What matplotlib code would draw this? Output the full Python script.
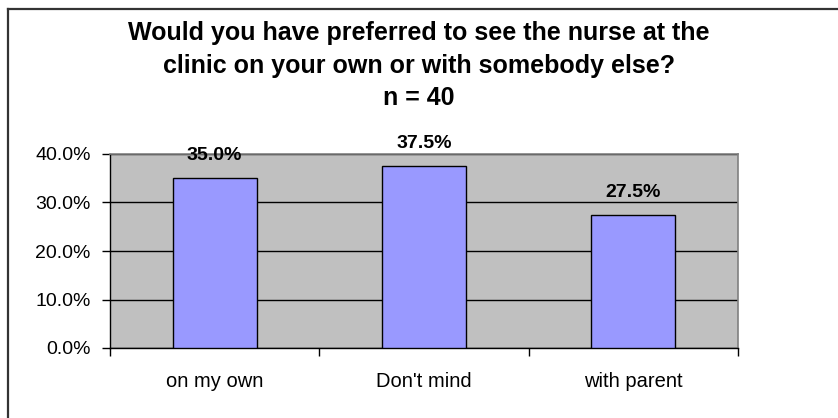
import numpy as np
import matplotlib.pyplot as plt
from matplotlib.lines import Line2D
from matplotlib.ticker import FuncFormatter, FixedLocator

categories = ["on my own", "Don't mind", "with parent"]
shares = [35.0, 37.5, 27.5]  # percent of respondents
title = "Would you have preferred to see the nurse at the\nclinic on your own or with somebody else?\nn = 40"

plt.rcParams['font.family'] = ['Liberation Sans', 'DejaVu Sans']

W, H = 838, 418
fig = plt.figure(figsize=(W / 100, H / 100), dpi=100)
ax = fig.add_axes([110 / W, 1 - 348 / H, (738 - 110) / W, (348 - 154) / H])

x = np.arange(len(categories))
ax.set_facecolor('#C0C0C0')
ax.bar(x, shares, width=0.4, color='#9999FF', edgecolor='black', linewidth=1.0, zorder=3)

ax.set_xlim(-0.5, len(categories) - 0.5)
ax.set_ylim(0, 40)
ax.set_yticks(np.arange(0, 41, 10))
ax.yaxis.set_major_formatter(FuncFormatter(lambda v, p: f"{v:.1f}%"))
ax.grid(axis='y', color='black', linewidth=1.0, zorder=1)

# categorías en el centro, marcas entre categorías
ax.xaxis.set_major_locator(FixedLocator(np.arange(-0.5, len(categories), 1.0)))
ax.xaxis.set_major_formatter(FuncFormatter(lambda v, p: ''))
ax.xaxis.set_minor_locator(FixedLocator(x))
ax.set_xticklabels(categories, minor=True)
ax.tick_params(axis='x', which='minor', length=0, pad=17, labelsize=14.5)
ax.tick_params(axis='x', which='major', length=6, width=1, direction='out')
ax.tick_params(axis='y', length=6, width=1, direction='out', labelsize=14, pad=8)

for side in ['top', 'right']:
    ax.spines[side].set_color('#808080')
    ax.spines[side].set_linewidth(1.2)
for side in ['left', 'bottom']:
    ax.spines[side].set_color('black')
    ax.spines[side].set_linewidth(1.0)

for xi, v in zip(x, shares):
    ax.annotate(f"{v:.1f}%", (xi, v), xytext=(0, 13), textcoords='offset points',
                ha='center', va='baseline', fontsize=14, fontweight='bold',
                clip_on=False, zorder=5)

fig.text(0.5, 1 - 21 / H, title, ha='center', va='top', fontsize=18,
         fontweight='bold', linespacing=1.45)

# borde exterior (solo arriba e izquierda)
fig.add_artist(Line2D([8 / W, 1.0], [1 - 9 / H, 1 - 9 / H], transform=fig.transFigure,
                      color='#333333', linewidth=1.6))
fig.add_artist(Line2D([8 / W, 8 / W], [1 - 9 / H, 0.0], transform=fig.transFigure,
                      color='#333333', linewidth=1.6))

fig.savefig('out.png', dpi=100)
